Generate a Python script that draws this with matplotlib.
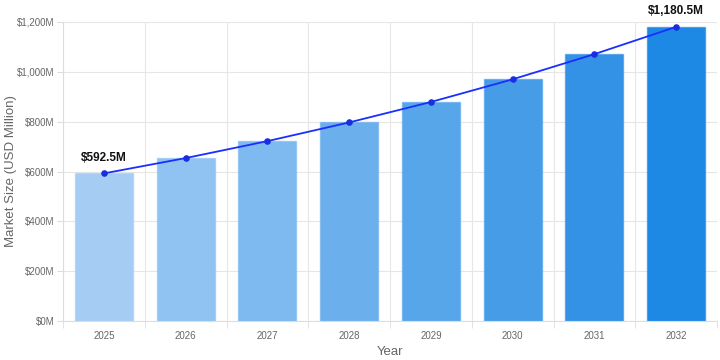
import matplotlib.pyplot as plt
import matplotlib.ticker as mticker
import numpy as np

plt.rcParams["font.family"] = ["Liberation Sans", "DejaVu Sans"]

years = ["2025", "2026", "2027", "2028", "2029", "2030", "2031", "2032"]
market_size = [592.5, 654, 722, 797, 879, 970, 1071, 1180.5]
labelled = {0: "$592.5M", 7: "$1,180.5M"}

bar_colors = ["#a5cdf4", "#91c3f2", "#7eb9f0", "#6bb0ed", "#58a6ea",
              "#479ce8", "#3492e6", "#1e88e5"]

fig = plt.figure(figsize=(7.2, 3.6), dpi=100)
ax = fig.add_axes([0.0875, 0.108, 0.9085, 0.831])

x = np.arange(len(years))
ax.bar(x, market_size, width=0.71, color=bar_colors,
       edgecolor=[c + "99" for c in bar_colors], linewidth=1, zorder=2)
ax.plot(x, market_size, color="#1a2eff", linewidth=1.3, zorder=3)
ax.scatter(x, market_size, s=14, color="#1a2ee0", zorder=4)

for i, txt in labelled.items():
    ax.annotate(txt, (x[i], market_size[i]), xytext=(0, 7),
                textcoords="offset points", ha="center", va="bottom",
                fontsize=8.5, fontweight="bold", color="#111111")

ax.set_xlim(-0.5, len(years) - 0.5)
ax.set_ylim(0, 1200)
ax.set_xticks(x)
ax.set_xticklabels(years)
ax.set_xticks(np.arange(len(years) + 1) - 0.5, minor=True)
ax.yaxis.set_major_locator(mticker.MultipleLocator(200))
ax.yaxis.set_major_formatter(mticker.FuncFormatter(lambda v, p: f"${v:,.0f}M"))

ax.tick_params(axis="x", which="major", length=0, pad=7, labelsize=7, labelcolor="#666666")
ax.tick_params(axis="x", which="minor", length=5, color="#dddddd")
ax.tick_params(axis="y", length=4, color="#dddddd", labelsize=7, labelcolor="#666666", pad=2)

ax.grid(True, axis="y", color="#e6e6e6", linewidth=0.8, zorder=0)
ax.grid(True, axis="x", which="minor", color="#e6e6e6", linewidth=0.8, zorder=0)
ax.set_axisbelow(True)

for s in ["top", "right"]:
    ax.spines[s].set_visible(False)
for s in ["left", "bottom"]:
    ax.spines[s].set_color("#dddddd")

ax.set_xlabel("Year", fontsize=9.5, color="#666666", labelpad=4)
ax.set_ylabel("Market Size (USD Million)", fontsize=9.5, color="#666666")
ax.yaxis.set_label_coords(-0.07, 0.5)

fig.savefig("out.png", dpi=100)
